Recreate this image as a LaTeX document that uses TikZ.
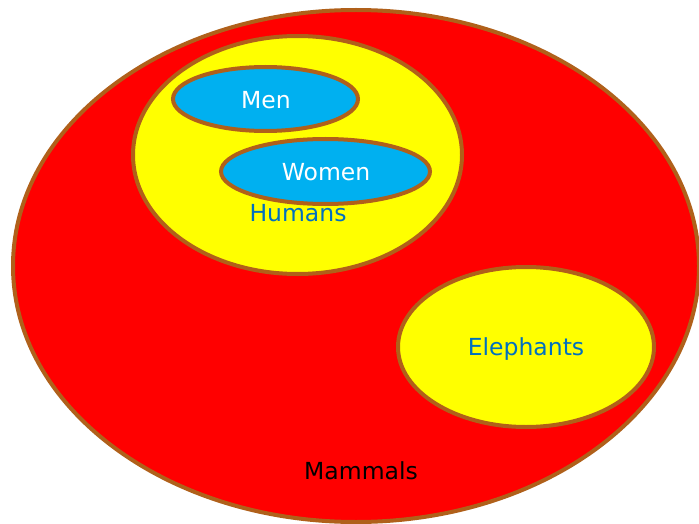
\documentclass[tikz,border=0pt]{standalone}
\usepackage{xcolor}
\usepackage{fontspec}
\setmainfont{DejaVu Sans}
\usetikzlibrary{shapes.geometric, positioning}

\definecolor{rim}{HTML}{B0601A}
\definecolor{setred}{HTML}{FF0000}
\definecolor{setyellow}{HTML}{FFFF00}
\definecolor{setblue}{HTML}{00B0F0}
\definecolor{labelblue}{HTML}{0070C0}

\tikzset{
  set/.style={ellipse, draw=rim, line width=4pt, inner sep=0pt},
  tag/.style={font=\fontsize{23.5}{28}\selectfont, inner sep=0pt}
}

\begin{document}
\begin{tikzpicture}[x=1pt, y=-1pt]
        \useasboundingbox (0,0) rectangle (699,524);

        \node[set, fill=setred, minimum width=686pt, minimum height=512pt] (mammals) at (356,266) {};
        \node[set, fill=setyellow, minimum width=329pt, minimum height=238pt] (humans) at (297.5,155) {};
        \node[set, fill=setblue, minimum width=185pt, minimum height=64pt] (men) at (265.5,99) {};
        \node[set, fill=setblue, minimum width=209pt, minimum height=65pt] (women) at (325.5,171.5) {};
        \node[set, fill=setyellow, minimum width=256pt, minimum height=160pt] (elephants) at (526,347) {};

        \node[tag, text=white] (menlbl) at (266,100) {Men};
        \node[tag, text=white] (womenlbl) at (326,172) {Women};
        \node[tag, text=labelblue] (humanslbl) at (298,213) {Humans};
        \node[tag, text=labelblue] (elephantslbl) at (526,349) {Elephants};
        \node[tag, text=black] (mammalslbl) at (361,471) {Mammals};

\end{tikzpicture}
\end{document}
